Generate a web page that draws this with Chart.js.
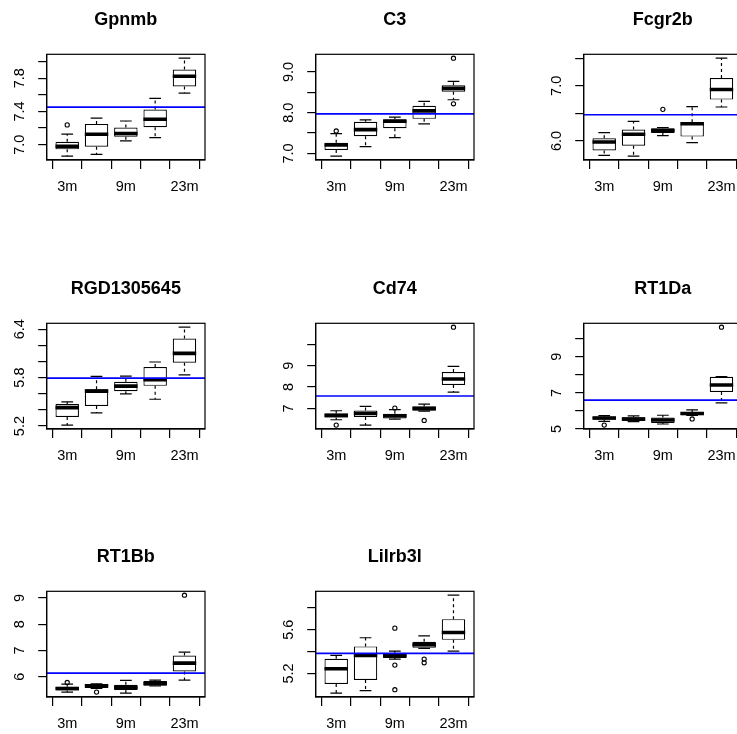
<!DOCTYPE html>
<html>
<head>
<meta charset="utf-8">
<script src="https://cdn.jsdelivr.net/npm/chart.js@4.4.1/dist/chart.umd.min.js"></script>
<style>
html,body{margin:0;padding:0;background:#fff;}
#wrap{position:relative;width:737px;height:734px;overflow:hidden;background:#fff;}
#wrap canvas{position:absolute;}
</style>
</head>
<body>
<div id="wrap"></div>
<script>
// ---------- data ----------
const genes = ['Gpnmb','C3','Fcgr2b','RGD1305645','Cd74','RT1Da','RT1Bb','Lilrb3l'];
const groupPositions = [1, 2, 3, 4, 5];
const xTickLabels = ['3m', '', '9m', '', '23m'];

const whiskerLow = [
  [6.863, 6.884, 7.045, 7.085, 7.62],
  [6.934, 7.165, 7.387, 7.724, 8.317],
  [5.738, 5.726, 6.098, 5.97, 6.616],
  [5.212, 5.362, 5.598, 5.532, 5.835],
  [6.469, 6.22, 6.5, 6.87, 7.766],
  [5.43, 5.41, 5.28, 5.75, 6.455],
  [5.418, 5.56, 5.38, 5.65, 5.873],
  [5.02, 5.042, 5.33, 5.428, 5.404]
];
const quartile1 = [
  [6.944, 6.976, 7.097, 7.21, 7.70],
  [7.082, 7.42, 7.617, 7.848, 8.514],
  [5.829, 5.915, 6.146, 6.079, 6.75],
  [5.312, 5.449, 5.632, 5.698, 5.984],
  [6.578, 6.594, 6.531, 6.89, 8.094],
  [5.522, 5.448, 5.336, 5.77, 7.05],
  [5.48, 5.57, 5.494, 5.658, 6.2],
  [5.103, 5.139, 5.34, 5.434, 5.507]
];
const medians = [
  [6.98, 7.126, 7.135, 7.306, 7.823],
  [7.206, 7.584, 7.79, 8.045, 8.597],
  [5.982, 6.122, 6.189, 6.311, 6.933],
  [5.428, 5.632, 5.694, 5.773, 6.1],
  [6.672, 6.766, 6.656, 7.0, 8.375],
  [5.616, 5.56, 5.504, 5.858, 7.444],
  [5.557, 5.658, 5.595, 5.747, 6.519],
  [5.243, 5.364, 5.361, 5.462, 5.574]
];
const quartile3 = [
  [7.036, 7.25, 7.206, 7.423, 7.903],
  [7.263, 7.774, 7.84, 8.169, 8.671],
  [6.049, 6.207, 6.232, 6.341, 7.14],
  [5.474, 5.656, 5.748, 5.93, 6.283],
  [6.766, 6.906, 6.75, 7.094, 8.703],
  [5.69, 5.653, 5.634, 5.95, 7.89],
  [5.62, 5.709, 5.696, 5.835, 6.81],
  [5.334, 5.447, 5.386, 5.489, 5.696]
];
const whiskerHigh = [
  [7.126, 7.319, 7.285, 7.556, 8.04],
  [7.486, 7.823, 7.889, 8.276, 8.77],
  [6.152, 6.354, 6.244, 6.622, 7.5],
  [5.499, 5.814, 5.818, 5.993, 6.424],
  [6.89, 7.094, 6.94, 7.203, 8.969],
  [5.746, 5.728, 5.765, 6.063, 7.9],
  [5.72, 5.734, 5.86, 5.873, 6.937],
  [5.364, 5.526, 5.404, 5.544, 5.915]
];
// outliers: [group position, value]
const outliers = [
  [[1, 7.238]],
  [[1, 7.55], [5, 8.218], [5, 9.337]],
  [[3, 6.573]],
  [],
  [[1, 6.22], [3, 7.016], [4, 6.4375], [5, 10.797]],
  [[1, 5.22], [4, 5.56], [5, 10.64]],
  [[1, 5.785], [2, 5.418], [5, 9.1]],
  [[3, 5.614], [3, 5.276], [3, 5.051], [4, 5.331], [4, 5.297]]
];
const referenceLine = [7.452, 7.971, 6.476, 5.793, 7.578, 6.6, 6.139, 5.383];

const yTickValues = [
  [7.0, 7.2, 7.4, 7.6, 7.8, 8.0],
  [7.0, 7.5, 8.0, 8.5, 9.0],
  [6.0, 6.5, 7.0, 7.5],
  [5.2, 5.4, 5.6, 5.8, 6.0, 6.2, 6.4],
  [7, 8, 9, 10],
  [5, 6, 7, 8, 9, 10],
  [6, 7, 8, 9],
  [5.2, 5.4, 5.6, 5.8]
];
const yTickLabels = [
  ['7.0', '', '7.4', '', '7.8', ''],
  ['7.0', '', '8.0', '', '9.0'],
  ['6.0', '', '7.0', ''],
  ['5.2', '', '', '5.8', '', '', '6.4'],
  ['7', '8', '9', ''],
  ['5', '', '7', '', '9', ''],
  ['6', '7', '8', '9'],
  ['5.2', '', '5.6', '']
];

// ---------- layout / style ----------
const XMIN = 0.3, XMAX = 5.7;
const BOX_HALF = 0.4, STAPLE_HALF = 0.2;
const CELL = 269, CELL_STEP = 268.67;
const PLOT_LEFT = 46.7, PLOT_TOP = 54.3, PLOT_RIGHT = 205, PLOT_BOTTOM = 160;
const FONT = '"Liberation Sans", Arial, Helvetica, sans-serif';
const LW = 1.2;

Chart.defaults.font.family = FONT;
Chart.defaults.color = '#000';

function unitsToPx(chart, u) {
  const s = chart.scales.x;
  return Math.abs(s.getPixelForValue(1 + u) - s.getPixelForValue(1));
}

const panelDecor = {
  id: 'panelDecor',
  afterDraw(chart, args, opts) {
    const { ctx, chartArea: a, scales: { y } } = chart;
    ctx.save();
    ctx.strokeStyle = '#000';
    ctx.lineWidth = LW;
    ctx.strokeRect(a.left, a.top, a.right - a.left, a.bottom - a.top);
    ctx.fillStyle = '#000';
    ctx.font = '14.5px ' + FONT;
    ctx.textAlign = 'center';
    ctx.textBaseline = 'middle';
    y.ticks.forEach((t) => {
      if (!t.label) return;
      const py = y.getPixelForValue(t.value);
      ctx.save();
      ctx.translate(a.left - 26.7, py);
      ctx.rotate(-Math.PI / 2);
      ctx.fillText(t.label, 0, 0);
      ctx.restore();
    });
    ctx.font = 'bold 18px ' + FONT;
    ctx.textBaseline = 'alphabetic';
    ctx.fillText(opts.title, (a.left + a.right) / 2, a.top - 29);
    ctx.restore();
  }
};

const wrap = document.getElementById('wrap');

genes.forEach((gene, i) => {
  const row = Math.floor(i / 3), col = i % 3;
  const cv = document.createElement('canvas');
  cv.width = CELL; cv.height = CELL;
  cv.style.width = CELL + 'px'; cv.style.height = CELL + 'px';
  cv.style.left = Math.round(col * CELL_STEP) + 'px';
  cv.style.top = Math.round(row * CELL_STEP) + 'px';
  wrap.appendChild(cv);

  const allVals = [...whiskerLow[i], ...whiskerHigh[i], ...outliers[i].map(o => o[1])];
  const dMin = Math.min(...allVals), dMax = Math.max(...allVals);
  const pad = 0.04 * (dMax - dMin);

  const whiskerData = [];
  const capData = [];
  groupPositions.forEach((p, k) => {
    whiskerData.push({ x: p, y: quartile1[i][k] }, { x: p, y: whiskerLow[i][k] }, { x: p, y: null });
    whiskerData.push({ x: p, y: quartile3[i][k] }, { x: p, y: whiskerHigh[i][k] }, { x: p, y: null });
    capData.push({ x: p, y: whiskerLow[i][k] }, { x: p, y: whiskerHigh[i][k] });
  });

  new Chart(cv, {
    type: 'bar',
    data: {
      datasets: [
        {
          type: 'line', label: 'whiskers', data: whiskerData,
          borderColor: '#000', borderWidth: LW, borderDash: [3, 3],
          pointRadius: 0, spanGaps: false, fill: false, order: 6
        },
        {
          type: 'scatter', label: 'staples', data: capData,
          pointStyle: 'line', borderColor: '#000', borderWidth: LW,
          pointRadius: (c) => unitsToPx(c.chart, STAPLE_HALF), order: 5
        },
        {
          type: 'bar', label: 'boxes',
          data: groupPositions.map((p, k) => ({ x: p, y: [quartile1[i][k], quartile3[i][k]] })),
          backgroundColor: '#fff', borderColor: '#000', borderWidth: LW,
          borderSkipped: false, barPercentage: 2 * BOX_HALF, categoryPercentage: 1, order: 4
        },
        {
          type: 'scatter', label: 'medians',
          data: groupPositions.map((p, k) => ({ x: p, y: medians[i][k] })),
          pointStyle: 'line', borderColor: '#000', borderWidth: 3.6,
          pointRadius: (c) => unitsToPx(c.chart, BOX_HALF), order: 3
        },
        {
          type: 'scatter', label: 'outliers',
          data: outliers[i].map(o => ({ x: o[0], y: o[1] })),
          pointStyle: 'circle', pointRadius: 2.1, borderWidth: 1.1,
          borderColor: '#000', backgroundColor: 'rgba(0,0,0,0)', order: 2
        },
        {
          type: 'line', label: 'mean',
          data: [{ x: XMIN, y: referenceLine[i] }, { x: XMAX, y: referenceLine[i] }],
          borderColor: '#0000ff', borderWidth: 1.6, pointRadius: 0, fill: false, order: 1
        }
      ]
    },
    options: {
      responsive: false,
      animation: false,
      events: [],
      devicePixelRatio: 1,
      layout: { padding: { left: 0, top: PLOT_TOP, right: CELL - PLOT_RIGHT, bottom: 0 } },
      plugins: {
        legend: { display: false },
        tooltip: { enabled: false },
        title: { display: false },
        panelDecor: { title: gene }
      },
      scales: {
        x: {
          type: 'linear', position: 'bottom', min: XMIN, max: XMAX, offset: false,
          afterBuildTicks: (s) => { s.ticks = groupPositions.map(v => ({ value: v })); },
          afterFit: (s) => { s.height = CELL - PLOT_BOTTOM; },
          ticks: {
            autoSkip: false, maxRotation: 0, minRotation: 0, padding: 9.3,
            color: '#000', font: { size: 14.5, family: FONT },
            callback: (v, idx) => xTickLabels[idx]
          },
          grid: { drawOnChartArea: false, drawTicks: true, tickLength: 9, color: '#000', lineWidth: LW },
          border: { display: true, color: '#000', width: LW }
        },
        y: {
          type: 'linear', position: 'left', min: dMin - pad, max: dMax + pad,
          afterBuildTicks: (s) => { s.ticks = yTickValues[i].map(v => ({ value: v })); },
          afterFit: (s) => { s.width = PLOT_LEFT; },
          ticks: { display: false, callback: (v, idx) => yTickLabels[i][idx] },
          grid: { drawOnChartArea: false, drawTicks: true, tickLength: 8.5, color: '#000', lineWidth: LW },
          border: { display: true, color: '#000', width: LW }
        }
      }
    },
    plugins: [panelDecor]
  });
});
</script>
</body>
</html>
